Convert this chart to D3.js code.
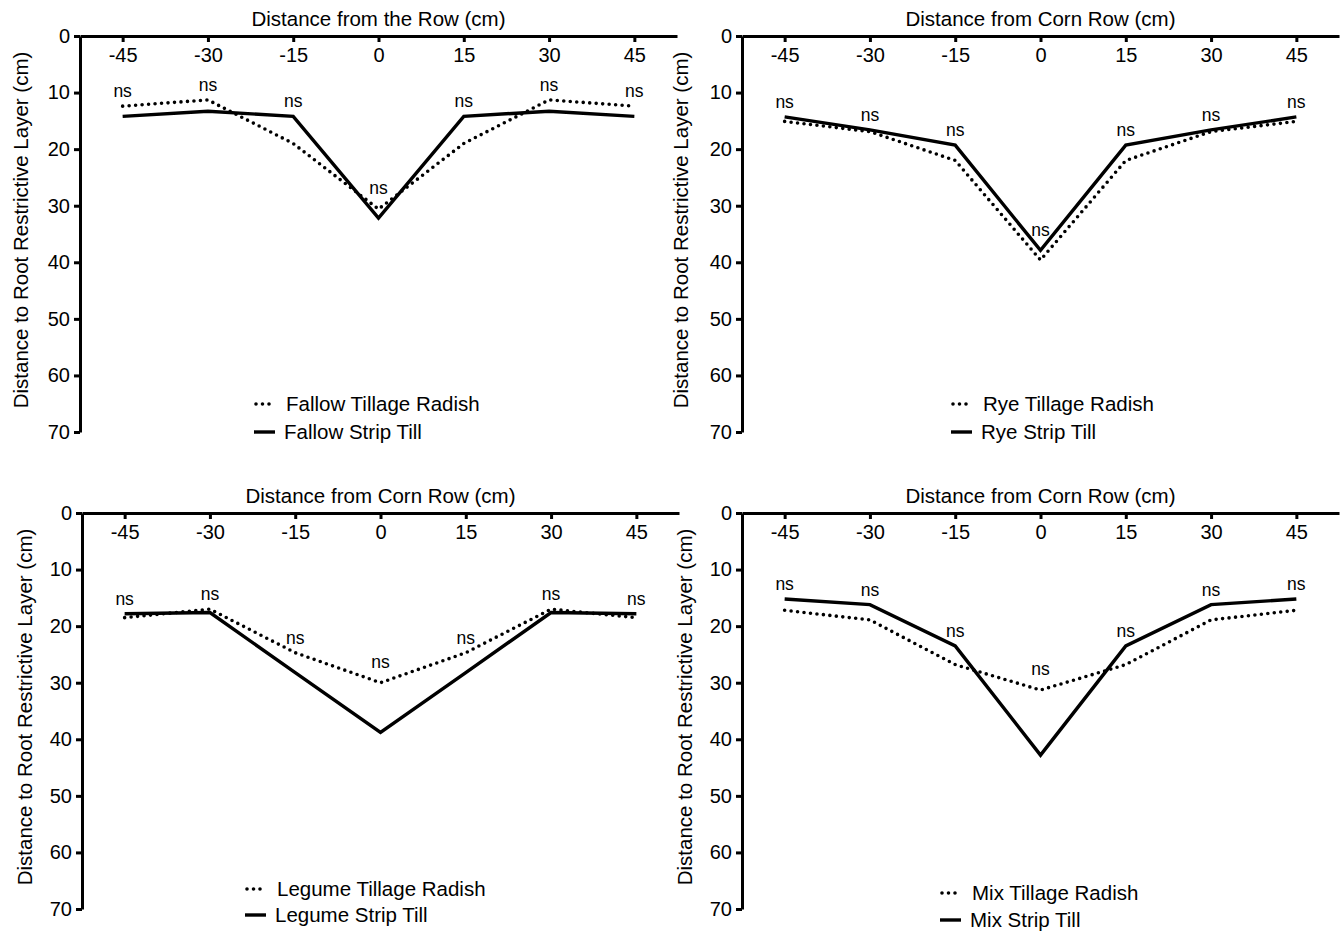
<!DOCTYPE html>
<html>
<head>
<meta charset="utf-8">
<script src="https://cdn.jsdelivr.net/npm/d3@7"></script>
<style>
  html, body { margin: 0; padding: 0; background: #fff; }
  svg { display: block; }
  text { font-family: "Liberation Sans", Arial, Helvetica, sans-serif; fill: #000; }
</style>
</head>
<body>
<svg id="chart" width="1343" height="932"></svg>
<script>
// ---------------- DATA ----------------
const distances = [-45, -30, -15, 0, 15, 30, 45];
const xTickLabels = ["-45", "-30", "-15", "0", "15", "30", "45"];
const yTicks = [0, 10, 20, 30, 40, 50, 60, 70];

const panelTitles = [
  "Distance from the Row (cm)",
  "Distance from Corn Row (cm)",
  "Distance from Corn Row (cm)",
  "Distance from Corn Row (cm)"
];
const yAxisTitle = "Distance to Root Restrictive Layer (cm)";

const radishLabels = ["Fallow Tillage Radish", "Rye Tillage Radish", "Legume Tillage Radish", "Mix Tillage Radish"];
const stripLabels  = ["Fallow Strip Till", "Rye Strip Till", "Legume Strip Till", "Mix Strip Till"];

const fallowRadish = [12.4, 11.3, 19.0, 30.6, 19.0, 11.3, 12.4];
const fallowStrip  = [14.2, 13.3, 14.2, 32.2, 14.2, 13.3, 14.2];
const ryeRadish    = [15.1, 16.9, 22.0, 39.6, 22.0, 16.9, 15.1];
const ryeStrip     = [14.3, 16.6, 19.3, 37.9, 19.3, 16.6, 14.3];
const legumeRadish = [18.5, 17.0, 24.7, 30.0, 24.7, 17.0, 18.5];
const legumeStrip  = [17.8, 17.6, 28.2, 38.8, 28.2, 17.6, 17.8];
const mixRadish    = [17.2, 18.9, 26.8, 31.3, 26.8, 18.9, 17.2];
const mixStrip     = [15.2, 16.2, 23.5, 42.8, 23.5, 16.2, 15.2];

const sigLabels = ["ns", "ns", "ns", "ns", "ns", "ns", "ns"];

const radishSeries = [fallowRadish, ryeRadish, legumeRadish, mixRadish];
const stripSeries  = [fallowStrip, ryeStrip, legumeStrip, mixStrip];

// ---------------- LAYOUT ----------------
const layout = [
  { left: 80,  right: 677,  top: 36,  bottom: 432, legX: 254, legY: [404, 432], yLabX: 21 },
  { left: 742, right: 1339, top: 36,  bottom: 432, legX: 951, legY: [404, 432], yLabX: 681 },
  { left: 82,  right: 679,  top: 513, bottom: 909, legX: 245, legY: [889, 915], yLabX: 25 },
  { left: 742, right: 1339, top: 513, bottom: 909, legX: 940, legY: [893, 920], yLabX: 685 }
];

const svg = d3.select("#chart");
const AXW = 3;
const LINEW = 3.4;
const DOTS = "0,6.5";

layout.forEach((L, i) => {
  const g = svg.append("g");
  const x = d3.scaleLinear().domain([-52.5, 52.5]).range([L.left, L.right]);
  const y = d3.scaleLinear().domain([0, 70]).range([L.top, L.bottom]);

  // X axis (along the top, ticks pointing down)
  const xa = g.append("g")
    .attr("transform", `translate(0,${L.top})`)
    .call(d3.axisBottom(x).tickValues(distances).tickFormat((d, j) => xTickLabels[j])
      .tickSize(6).tickSizeOuter(0).tickPadding(6));
  xa.select(".domain").attr("stroke-width", AXW).attr("stroke", "#000");
  xa.selectAll(".tick line").attr("stroke-width", AXW).attr("stroke", "#000");
  xa.selectAll(".tick text").attr("font-size", 20).attr("font-family", '"Liberation Sans", Arial, sans-serif');

  // Y axis (left, depth increasing downward)
  const ya = g.append("g")
    .attr("transform", `translate(${L.left},0)`)
    .call(d3.axisLeft(y).tickValues(yTicks).tickSize(6).tickSizeOuter(0).tickPadding(4));
  ya.select(".domain").attr("stroke-width", AXW).attr("stroke", "#000");
  ya.selectAll(".tick line").attr("stroke-width", AXW).attr("stroke", "#000");
  ya.selectAll(".tick text").attr("font-size", 20).attr("font-family", '"Liberation Sans", Arial, sans-serif');

  // Titles
  g.append("text")
    .attr("x", x(0)).attr("y", L.top - 10)
    .attr("text-anchor", "middle").attr("font-size", 20.5)
    .text(panelTitles[i]);
  g.append("text")
    .attr("transform", `translate(${L.yLabX},${(L.top + L.bottom) / 2 - 4}) rotate(-90)`)
    .attr("text-anchor", "middle").attr("dy", "0.35em").attr("font-size", 20.5)
    .text(yAxisTitle);

  const line = d3.line().x((d, j) => x(distances[j])).y(d => y(d));

  // Strip till (solid)
  g.append("path").datum(stripSeries[i])
    .attr("d", line).attr("fill", "none").attr("stroke", "#000")
    .attr("stroke-width", LINEW).attr("stroke-linejoin", "miter");
  // Tillage radish (dotted)
  g.append("path").datum(radishSeries[i])
    .attr("d", line).attr("fill", "none").attr("stroke", "#000")
    .attr("stroke-width", 3.6).attr("stroke-linecap", "round")
    .attr("stroke-dasharray", DOTS);

  // Significance labels
  distances.forEach((dx, j) => {
    const top = Math.min(radishSeries[i][j], stripSeries[i][j]);
    const off = dx === 0 ? 21 : 15;
    g.append("text")
      .attr("x", x(dx)).attr("y", y(top) - off)
      .attr("dy", "0.35em").attr("text-anchor", "middle").attr("font-size", 17.5)
      .text(sigLabels[j]);
  });

  // Legend
  g.append("line")
    .attr("x1", L.legX + 2).attr("x2", L.legX + 17)
    .attr("y1", L.legY[0]).attr("y2", L.legY[0])
    .attr("stroke", "#000").attr("stroke-width", 3.6)
    .attr("stroke-linecap", "round").attr("stroke-dasharray", DOTS);
  g.append("text")
    .attr("x", L.legX + 32).attr("y", L.legY[0]).attr("dy", "0.35em")
    .attr("font-size", 20.5).text(radishLabels[i]);
  g.append("line")
    .attr("x1", L.legX).attr("x2", L.legX + 21)
    .attr("y1", L.legY[1]).attr("y2", L.legY[1])
    .attr("stroke", "#000").attr("stroke-width", LINEW);
  g.append("text")
    .attr("x", L.legX + 30).attr("y", L.legY[1]).attr("dy", "0.35em")
    .attr("font-size", 20.5).text(stripLabels[i]);
});
</script>
</body>
</html>
